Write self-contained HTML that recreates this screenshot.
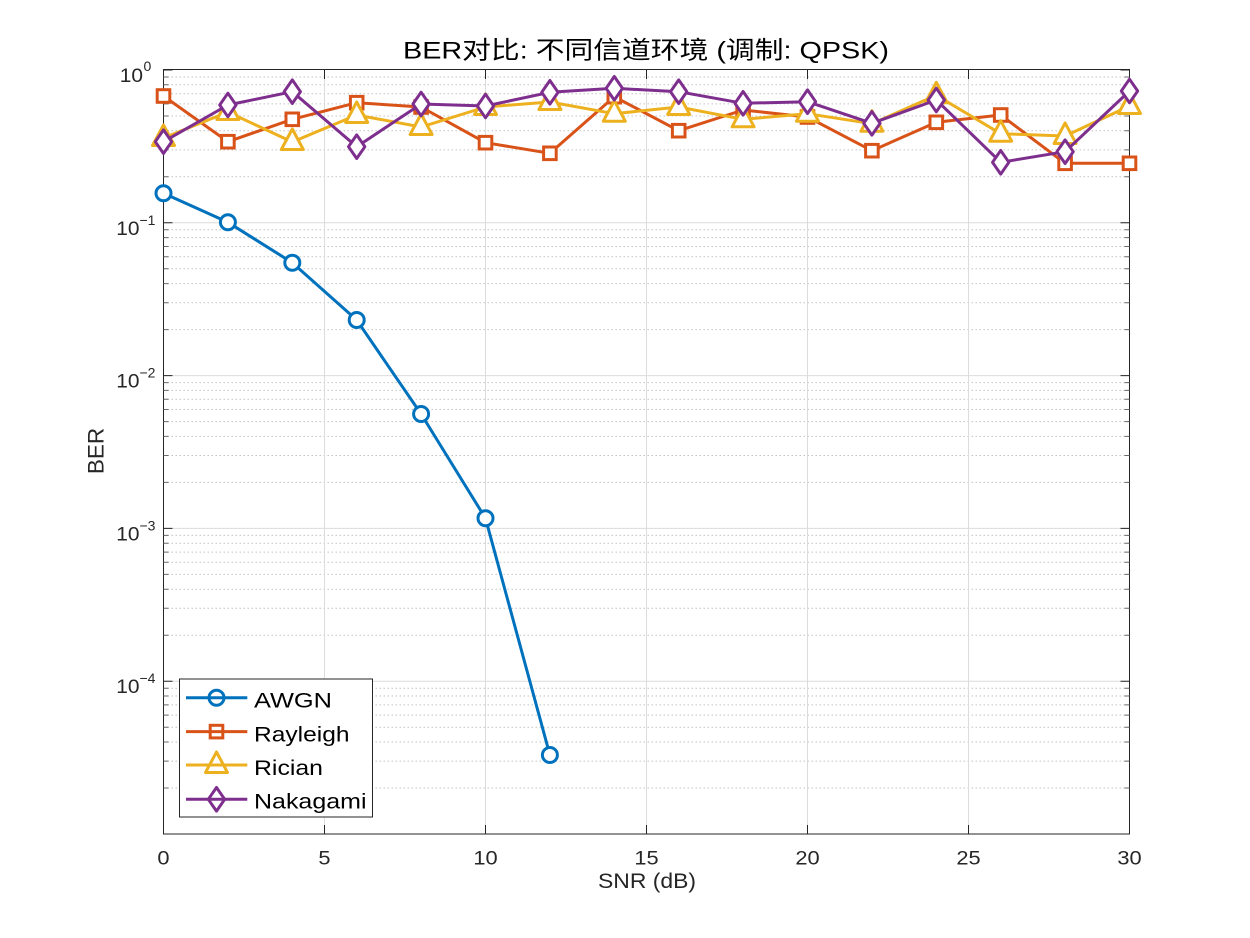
<!DOCTYPE html>
<html><head><meta charset="utf-8"><style>
html,body{margin:0;padding:0;background:#fff;}
svg{display:block;}
text{font-family:"Liberation Sans","Noto Sans CJK SC",sans-serif;}
</style></head><body>
<svg width="1250" height="938" viewBox="0 0 1250 938" xmlns="http://www.w3.org/2000/svg">
<rect width="1250" height="938" fill="#fff"/>
<rect x="163.5" y="70" width="966" height="764" fill="#fff"/>
<!-- minor grid -->
<g stroke="#c2c2c2" stroke-width="1" stroke-dasharray="1.5 2.5" fill="none">
<path d="M163.5,176.8H1129.5M163.5,149.9H1129.5M163.5,130.8H1129.5M163.5,116.0H1129.5M163.5,103.9H1129.5M163.5,93.7H1129.5M163.5,84.8H1129.5M163.5,77.0H1129.5"/>
<path d="M163.5,329.6H1129.5M163.5,302.7H1129.5M163.5,283.6H1129.5M163.5,268.8H1129.5M163.5,256.7H1129.5M163.5,246.5H1129.5M163.5,237.6H1129.5M163.5,229.8H1129.5"/>
<path d="M163.5,482.4H1129.5M163.5,455.5H1129.5M163.5,436.4H1129.5M163.5,421.6H1129.5M163.5,409.5H1129.5M163.5,399.3H1129.5M163.5,390.4H1129.5M163.5,382.6H1129.5"/>
<path d="M163.5,635.2H1129.5M163.5,608.3H1129.5M163.5,589.2H1129.5M163.5,574.4H1129.5M163.5,562.3H1129.5M163.5,552.1H1129.5M163.5,543.2H1129.5M163.5,535.4H1129.5"/>
<path d="M163.5,788.0H1129.5M163.5,761.1H1129.5M163.5,742.0H1129.5M163.5,727.2H1129.5M163.5,715.1H1129.5M163.5,704.9H1129.5M163.5,696.0H1129.5M163.5,688.2H1129.5"/>
</g>
<!-- major grid -->
<g stroke="#dcdcdc" stroke-width="1" fill="none">
<path d="M163.5,222.8H1129.5M163.5,375.6H1129.5M163.5,528.4H1129.5M163.5,681.2H1129.5"/>
<path d="M324.5,70V834M485.5,70V834M646.5,70V834M807.5,70V834M968.5,70V834"/>
</g>
<!-- axes box -->
<rect x="163.5" y="69.5" width="966" height="764.5" fill="none" stroke="#262626" stroke-width="1"/>
<!-- major ticks -->
<g stroke="#262626" stroke-width="1" fill="none">
<path d="M163.5,70h9M163.5,222.8h9M163.5,375.6h9M163.5,528.4h9M163.5,681.2h9M163.5,834h9"/>
<path d="M1129.5,70h-9M1129.5,222.8h-9M1129.5,375.6h-9M1129.5,528.4h-9M1129.5,681.2h-9M1129.5,834h-9"/>
<path d="M324.5,834v-9M485.5,834v-9M646.5,834v-9M807.5,834v-9M968.5,834v-9"/>
<path d="M324.5,70v9M485.5,70v9M646.5,70v9M807.5,70v9M968.5,70v9"/>
</g>
<!-- minor ticks -->
<g stroke="#6a6a6a" stroke-width="1" fill="none">
<path d="M163.5,176.8h5M163.5,149.9h5M163.5,130.8h5M163.5,116.0h5M163.5,103.9h5M163.5,93.7h5M163.5,84.8h5M163.5,77.0h5M163.5,329.6h5M163.5,302.7h5M163.5,283.6h5M163.5,268.8h5M163.5,256.7h5M163.5,246.5h5M163.5,237.6h5M163.5,229.8h5M163.5,482.4h5M163.5,455.5h5M163.5,436.4h5M163.5,421.6h5M163.5,409.5h5M163.5,399.3h5M163.5,390.4h5M163.5,382.6h5M163.5,635.2h5M163.5,608.3h5M163.5,589.2h5M163.5,574.4h5M163.5,562.3h5M163.5,552.1h5M163.5,543.2h5M163.5,535.4h5M163.5,788.0h5M163.5,761.1h5M163.5,742.0h5M163.5,727.2h5M163.5,715.1h5M163.5,704.9h5M163.5,696.0h5M163.5,688.2h5"/>
<path d="M1129.5,176.8h-5M1129.5,149.9h-5M1129.5,130.8h-5M1129.5,116.0h-5M1129.5,103.9h-5M1129.5,93.7h-5M1129.5,84.8h-5M1129.5,77.0h-5M1129.5,329.6h-5M1129.5,302.7h-5M1129.5,283.6h-5M1129.5,268.8h-5M1129.5,256.7h-5M1129.5,246.5h-5M1129.5,237.6h-5M1129.5,229.8h-5M1129.5,482.4h-5M1129.5,455.5h-5M1129.5,436.4h-5M1129.5,421.6h-5M1129.5,409.5h-5M1129.5,399.3h-5M1129.5,390.4h-5M1129.5,382.6h-5M1129.5,635.2h-5M1129.5,608.3h-5M1129.5,589.2h-5M1129.5,574.4h-5M1129.5,562.3h-5M1129.5,552.1h-5M1129.5,543.2h-5M1129.5,535.4h-5M1129.5,788.0h-5M1129.5,761.1h-5M1129.5,742.0h-5M1129.5,727.2h-5M1129.5,715.1h-5M1129.5,704.9h-5M1129.5,696.0h-5M1129.5,688.2h-5"/>
</g>

<!-- AWGN -->
<g stroke="#0072BD" stroke-width="3" fill="none" stroke-linejoin="round">
<polyline points="163.5,193.3 227.9,222.3 292.3,262.7 356.7,320 421.1,414 485.5,518.3 549.9,755"/>
<g fill="#fff">
<circle cx="163.5" cy="193.3" r="7.5"/><circle cx="227.9" cy="222.3" r="7.5"/><circle cx="292.3" cy="262.7" r="7.5"/><circle cx="356.7" cy="320" r="7.5"/><circle cx="421.1" cy="414" r="7.5"/><circle cx="485.5" cy="518.3" r="7.5"/><circle cx="549.9" cy="755" r="7.5"/>
</g>
</g>
<!-- Rayleigh -->
<g stroke="#D95319" stroke-width="3" fill="none" stroke-linejoin="round">
<polyline points="163.5,96 227.9,141.7 292.3,119.3 356.7,102.7 421.1,107 485.5,142.7 549.9,153.3 614.3,96.7 678.7,130.7 743.1,110 807.5,117 871.9,150.7 936.3,122.3 1000.7,115 1065.1,163.3 1129.5,163.3"/>
<g fill="#fff" stroke-linejoin="miter">
<rect x="157.2" y="89.7" width="12.6" height="12.6"/><rect x="221.6" y="135.4" width="12.6" height="12.6"/><rect x="286" y="113" width="12.6" height="12.6"/><rect x="350.4" y="96.4" width="12.6" height="12.6"/><rect x="414.8" y="100.7" width="12.6" height="12.6"/><rect x="479.2" y="136.4" width="12.6" height="12.6"/><rect x="543.6" y="147" width="12.6" height="12.6"/><rect x="608" y="90.4" width="12.6" height="12.6"/><rect x="672.4" y="124.4" width="12.6" height="12.6"/><rect x="736.8" y="103.7" width="12.6" height="12.6"/><rect x="801.2" y="110.7" width="12.6" height="12.6"/><rect x="865.6" y="144.4" width="12.6" height="12.6"/><rect x="930" y="116" width="12.6" height="12.6"/><rect x="994.4" y="108.7" width="12.6" height="12.6"/><rect x="1058.8" y="157" width="12.6" height="12.6"/><rect x="1123.2" y="157" width="12.6" height="12.6"/>
</g>
</g>
<!-- Rician -->
<g stroke="#EDB120" stroke-width="3" fill="none" stroke-linejoin="round">
<polyline points="163.5,138 227.9,112 292.3,142 356.7,115 421.1,127 485.5,107 549.9,102 614.3,113.7 678.7,107 743.1,119.3 807.5,113.7 871.9,123.7 936.3,95.3 1000.7,133.7 1065.1,136 1129.5,106"/>
<g fill="#fff">
<path d="M163.5,125l11,20.5h-22z"/><path d="M227.9,99l11,20.5h-22z"/><path d="M292.3,129l11,20.5h-22z"/><path d="M356.7,102l11,20.5h-22z"/><path d="M421.1,114l11,20.5h-22z"/><path d="M485.5,94l11,20.5h-22z"/><path d="M549.9,89l11,20.5h-22z"/><path d="M614.3,100.7l11,20.5h-22z"/><path d="M678.7,94l11,20.5h-22z"/><path d="M743.1,106.3l11,20.5h-22z"/><path d="M807.5,100.7l11,20.5h-22z"/><path d="M871.9,110.7l11,20.5h-22z"/><path d="M936.3,82.3l11,20.5h-22z"/><path d="M1000.7,120.7l11,20.5h-22z"/><path d="M1065.1,123l11,20.5h-22z"/><path d="M1129.5,93l11,20.5h-22z"/>
</g>
</g>
<!-- Nakagami -->
<g stroke="#7E2F8E" stroke-width="3" fill="none" stroke-linejoin="round">
<polyline points="163.5,141.7 227.9,105 292.3,91.7 356.7,146.7 421.1,104 485.5,106 549.9,92.3 614.3,88.3 678.7,91.7 743.1,103.3 807.5,101.7 871.9,123.3 936.3,100 1000.7,162.3 1065.1,151.7 1129.5,91"/>
<g fill="#fff">
<path d="M163.5,129.9l8.2,11.8l-8.2,11.8l-8.2,-11.8z"/><path d="M227.9,93.2l8.2,11.8l-8.2,11.8l-8.2,-11.8z"/><path d="M292.3,79.9l8.2,11.8l-8.2,11.8l-8.2,-11.8z"/><path d="M356.7,134.9l8.2,11.8l-8.2,11.8l-8.2,-11.8z"/><path d="M421.1,92.2l8.2,11.8l-8.2,11.8l-8.2,-11.8z"/><path d="M485.5,94.2l8.2,11.8l-8.2,11.8l-8.2,-11.8z"/><path d="M549.9,80.5l8.2,11.8l-8.2,11.8l-8.2,-11.8z"/><path d="M614.3,76.5l8.2,11.8l-8.2,11.8l-8.2,-11.8z"/><path d="M678.7,79.9l8.2,11.8l-8.2,11.8l-8.2,-11.8z"/><path d="M743.1,91.5l8.2,11.8l-8.2,11.8l-8.2,-11.8z"/><path d="M807.5,89.9l8.2,11.8l-8.2,11.8l-8.2,-11.8z"/><path d="M871.9,111.5l8.2,11.8l-8.2,11.8l-8.2,-11.8z"/><path d="M936.3,88.2l8.2,11.8l-8.2,11.8l-8.2,-11.8z"/><path d="M1000.7,150.5l8.2,11.8l-8.2,11.8l-8.2,-11.8z"/><path d="M1065.1,139.9l8.2,11.8l-8.2,11.8l-8.2,-11.8z"/><path d="M1129.5,79.2l8.2,11.8l-8.2,11.8l-8.2,-11.8z"/>
</g>
</g>

<!-- legend -->
<rect x="179.5" y="679" width="193" height="138" fill="#fff" stroke="#262626" stroke-width="1"/>
<g stroke-width="3" fill="none" stroke-linejoin="round">
<path d="M186,697.7H247.3" stroke="#0072BD"/><circle cx="216.5" cy="697.7" r="7.5" stroke="#0072BD"/>
<path d="M186,731.6H247.3" stroke="#D95319"/><rect x="210.2" y="725.3" width="12.6" height="12.6" stroke="#D95319" stroke-linejoin="miter"/>
<path d="M186,765H247.3" stroke="#EDB120"/><path d="M216.5,752l11,20.5h-22z" stroke="#EDB120"/>
<path d="M186,799.3H247.3" stroke="#7E2F8E"/><path d="M216.5,787.5l8.2,11.8l-8.2,11.8l-8.2,-11.8z" stroke="#7E2F8E"/>
</g>
<g font-size="21" fill="#000">
<text x="254" y="707.5" textLength="78" lengthAdjust="spacingAndGlyphs">AWGN</text>
<text x="254" y="741.4" textLength="95.5" lengthAdjust="spacingAndGlyphs">Rayleigh</text>
<text x="254" y="774.8" textLength="69" lengthAdjust="spacingAndGlyphs">Rician</text>
<text x="254" y="808.5" textLength="112.5" lengthAdjust="spacingAndGlyphs">Nakagami</text>
</g>

<!-- x tick labels -->
<g font-size="19" fill="#262626" text-anchor="middle">
<text transform="translate(163.5,864.3) scale(1.15,1)">0</text>
<text transform="translate(324.5,864.3) scale(1.15,1)">5</text>
<text transform="translate(485.5,864.3) scale(1.15,1)">10</text>
<text transform="translate(646.5,864.3) scale(1.15,1)">15</text>
<text transform="translate(807.5,864.3) scale(1.15,1)">20</text>
<text transform="translate(968.5,864.3) scale(1.15,1)">25</text>
<text transform="translate(1129.5,864.3) scale(1.15,1)">30</text>
</g>
<!-- y tick labels -->
<g fill="#262626">
<text font-size="19" text-anchor="end" transform="translate(143,82) scale(1.1,1)">10</text>
<text font-size="14" x="143.5" y="71">0</text>
<text font-size="19" text-anchor="end" transform="translate(139.5,234.8) scale(1.1,1)">10</text>
<text font-size="14" x="139.5" y="224.8">−1</text>
<text font-size="19" text-anchor="end" transform="translate(139.5,387.6) scale(1.1,1)">10</text>
<text font-size="14" x="139.5" y="377.6">−2</text>
<text font-size="19" text-anchor="end" transform="translate(139.5,540.4) scale(1.1,1)">10</text>
<text font-size="14" x="139.5" y="530.4">−3</text>
<text font-size="19" text-anchor="end" transform="translate(139.5,693.2) scale(1.1,1)">10</text>
<text font-size="14" x="139.5" y="683.2">−4</text>
</g>

<!-- axis labels -->
<text x="598" y="888" font-size="21" fill="#262626" textLength="98" lengthAdjust="spacingAndGlyphs">SNR (dB)</text>
<text transform="translate(103.3,451) rotate(-90)" font-size="22.5" fill="#262626" text-anchor="middle">BER</text>

<!-- title -->
<text x="403" y="58.5" font-size="24.5" fill="#000" textLength="486" lengthAdjust="spacingAndGlyphs">BER对比: 不同信道环境 (调制: QPSK)</text>
</svg>
</body></html>
